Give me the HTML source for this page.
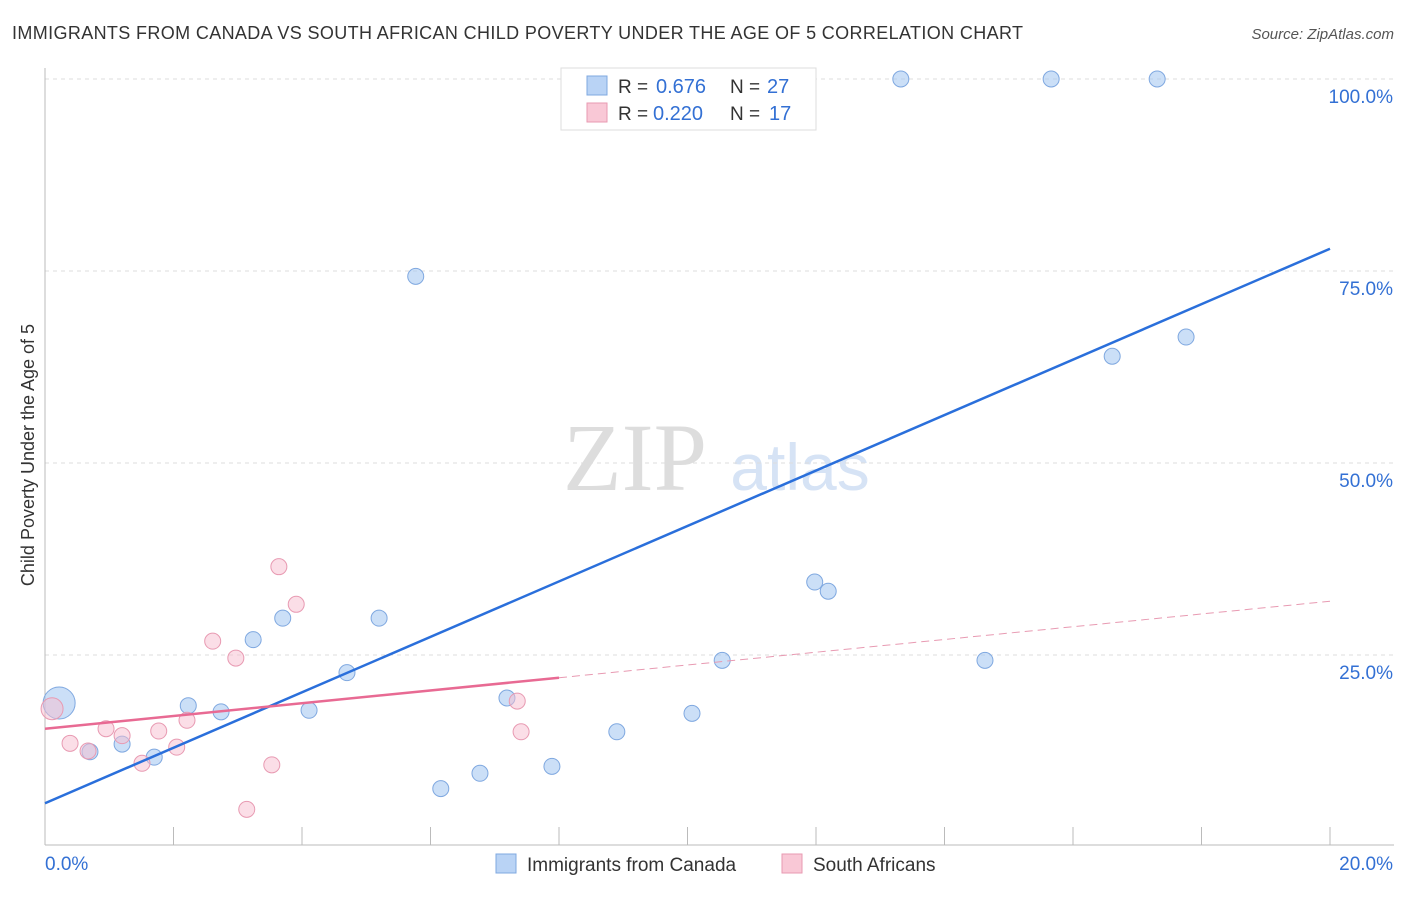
<!DOCTYPE html>
<html><head><meta charset="utf-8"><style>
body{margin:0;background:#fff;font-family:"Liberation Sans",sans-serif;}
svg text{font-family:"Liberation Sans",sans-serif;}
</style></head><body>
<svg id="chart" width="1406" height="892">
<text x="12" y="39" font-size="18" fill="#333" textLength="1011">IMMIGRANTS FROM CANADA VS SOUTH AFRICAN CHILD POVERTY UNDER THE AGE OF 5 CORRELATION CHART</text>
<text x="1394" y="39" font-size="15" fill="#555" font-style="italic" text-anchor="end">Source: ZipAtlas.com</text>
<text x="635" y="490" font-size="96" fill="#ddd" style="font-family:'Liberation Serif',serif" text-anchor="middle">ZIP</text>
<text x="800" y="490" font-size="66" fill="#d6e3f5" text-anchor="middle">atlas</text>
<text transform="translate(34,455) rotate(-90)" font-size="18" fill="#333" text-anchor="middle">Child Poverty Under the Age of 5</text>
<g id="grid"></g><g id="marks"></g>
<g>
<rect x="561" y="68" width="255" height="62" fill="#fff" stroke="#ddd"/>
<rect x="587" y="76" width="20" height="19" fill="#b9d3f5" stroke="#7fa8e0"/>
<rect x="587" y="103" width="20" height="19" fill="#f9c8d6" stroke="#e89ab2"/>
<text x="618" y="93" font-size="19" fill="#333">R =</text>
<text x="656" y="93" font-size="20" fill="#3370d4">0.676</text>
<text x="730" y="93" font-size="19" fill="#333">N =</text>
<text x="767" y="93" font-size="20" fill="#3370d4">27</text>
<text x="618" y="120" font-size="19" fill="#333">R =</text>
<text x="653" y="120" font-size="20" fill="#3370d4">0.220</text>
<text x="730" y="120" font-size="19" fill="#333">N =</text>
<text x="769" y="120" font-size="20" fill="#3370d4">17</text>
</g>
<g>
<rect x="496" y="854" width="20" height="19" fill="#b9d3f5" stroke="#7fa8e0"/>
<text x="527" y="871" font-size="19" fill="#333">Immigrants from Canada</text>
<rect x="782" y="854" width="20" height="19" fill="#f9c8d6" stroke="#e89ab2"/>
<text x="813" y="871" font-size="19" fill="#333">South Africans</text>
</g>
</svg>
<script>
const blueX=[0.22,0.70,1.20,1.70,2.23,2.74,3.24,3.70,4.11,4.70,5.20,5.77,6.16,6.77,7.19,7.89,8.90,10.07,10.54,11.98,12.19,13.32,14.63,15.66,16.61,17.31,17.76];
const blueY=[18.75,12.4,13.4,11.7,18.4,17.6,27.0,29.8,17.8,22.7,29.8,74.3,7.6,9.6,19.4,10.5,15.0,17.4,24.3,34.5,33.3,100,24.3,100,63.9,100,66.4];
const pinkX=[0.11,0.39,0.67,0.95,1.20,1.51,1.77,2.05,2.21,2.61,2.97,3.14,3.53,3.64,3.91,7.35,7.41];
const pinkY=[18.0,13.5,12.5,15.4,14.5,10.9,15.1,13.0,16.5,26.8,24.6,4.9,10.7,36.5,31.6,19.0,15.0];
const blueLine=[5.7,77.9];
const pinkLine=[15.4,32.0];
const yTicks=[25,50,75,100];
const xTickLabels=["0.0%","20.0%"];
const NS="http://www.w3.org/2000/svg";
const sx=v=>45+v/20*1285, sy=v=>847-v/25*192;
function mk(tag,at,parent){const e=document.createElementNS(NS,tag);for(const k in at)e.setAttribute(k,at[k]);parent.appendChild(e);return e;}
const g=document.getElementById('grid'), m=document.getElementById('marks');
yTicks.forEach(t=>{
 const l=mk('line',{x1:45,x2:1394,y1:sy(t),y2:sy(t),stroke:'#ddd','stroke-dasharray':'4,4'},g);
 
 
 const tx=mk('text',{x:1393,y:sy(t)+24,'font-size':19,fill:'#3370d4','text-anchor':'end'},g);
 tx.textContent=t.toFixed(1)+'%';
 
 
});
mk('line',{x1:45,x2:45,y1:68,y2:845,stroke:'#bbb'},g);
mk('line',{x1:45,x2:1394,y1:845,y2:845,stroke:'#bbb'},g);
for(let i=0;i<=10;i++){const t=mk('line',{x1:sx(i*2),x2:sx(i*2),y1:827,y2:845,stroke:'#bbb'},g);
 
 }
const x0=mk('text',{x:45,y:870,'font-size':19,fill:'#3370d4'},g);x0.textContent=xTickLabels[0];


const x1=mk('text',{x:1393,y:870,'font-size':19,fill:'#3370d4','text-anchor':'end'},g);x1.textContent=xTickLabels[1];


blueX.forEach((x,i)=>{const c=mk('circle',{cx:sx(x),cy:sy(blueY[i]),r:i==0?16:8,fill:'rgba(160,196,240,0.55)',stroke:'#7fa8e0','stroke-width':1},m);
 
 });
pinkX.forEach((x,i)=>{const c=mk('circle',{cx:sx(x),cy:sy(pinkY[i]),r:i==0?11:8,fill:'rgba(248,190,208,0.5)',stroke:'#e89ab2','stroke-width':1},m);
 
 });
const bl=mk('line',{x1:sx(0),y1:sy(blueLine[0]),x2:sx(20),y2:sy(blueLine[1]),stroke:'#2a6fdb','stroke-width':2.5},m);


const pm=pinkLine[0]+(pinkLine[1]-pinkLine[0])*8/20;
const pl=mk('line',{x1:sx(0),y1:sy(pinkLine[0]),x2:sx(8),y2:sy(pm),stroke:'#e86a93','stroke-width':2.5},m);


const pd=mk('line',{x1:sx(8),y1:sy(pm),x2:sx(20),y2:sy(pinkLine[1]),stroke:'#e89ab2','stroke-width':1,'stroke-dasharray':'8,5'},m);


</script>
</body></html>
